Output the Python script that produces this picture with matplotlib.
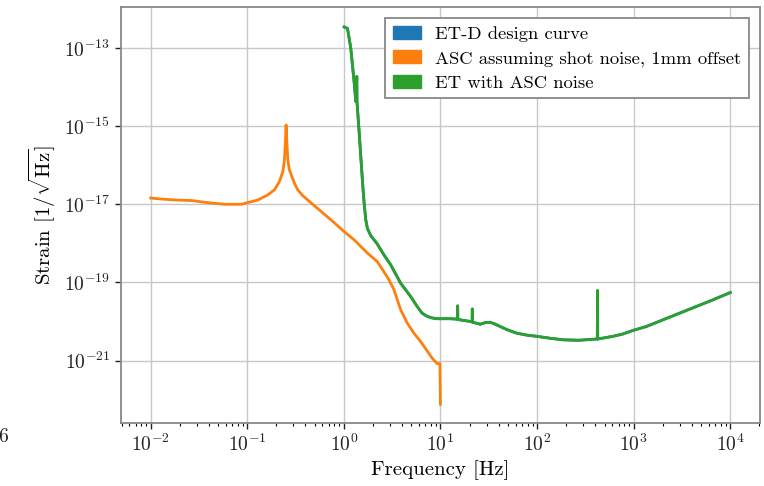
import numpy as np
import matplotlib
matplotlib.use("Agg")
import matplotlib.pyplot as plt
from matplotlib.patches import Patch

plt.rcParams['font.family'] = 'serif'
plt.rcParams['font.serif'] = ['cmr10', 'DejaVu Serif']
plt.rcParams['mathtext.fontset'] = 'cm'
plt.rcParams['axes.formatter.use_mathtext'] = True
plt.rcParams['axes.unicode_minus'] = False

# ---- data (log10 frequency [Hz], log10 strain) ----
asc_logf = [-2.0, -1.92, -1.749, -1.577, -1.405, -1.234, -1.062, -0.89,
            -0.787, -0.718, -0.667, -0.63, -0.615, -0.605, -0.598,
            -0.590, -0.58, -0.564, -0.512, -0.477, -0.43, -0.374, -0.271, -0.237,
            -0.1, 0.003, 0.106, 0.244, 0.347, 0.467, 0.519, 0.588, 0.656,
            0.725, 0.794, 0.914, 0.966, 0.995, 1.0]
asc_logs = [-16.84, -16.86, -16.89, -16.905, -16.96, -17.0, -17.0, -16.89,
            -16.76, -16.63, -16.42, -16.15, -15.86, -15.40, -14.97,
            -15.40, -15.86, -16.12, -16.46, -16.63, -16.77, -16.89, -17.11, -17.18,
            -17.47, -17.70, -17.91, -18.25, -18.47, -18.93, -19.19, -19.70, -20.04,
            -20.30, -20.51, -20.94, -21.08, -21.08, -22.12]

et_logf = [0.003, 0.038, 0.072, 0.106, 0.124, 0.134, 0.136, 0.158, 0.193,
           0.209, 0.227, 0.244, 0.278, 0.347, 0.416, 0.485, 0.588, 0.691,
           0.760, 0.811, 0.863, 0.914, 0.966, 1.103, 1.172, 1.176, 1.178,
           1.180, 1.309, 1.328, 1.330, 1.332, 1.412, 1.464, 1.515, 1.567,
           1.619, 1.688, 1.79, 1.894, 1.997, 2.134, 2.271, 2.409, 2.443,
           2.615, 2.624, 2.626, 2.628, 2.787, 2.89, 2.993, 3.131, 3.302,
           3.474, 3.646, 3.818, 4.0]
et_logs = [-12.46, -12.50, -13.01, -13.86, -14.37, -13.73, -14.37, -15.14, -16.42,
           -16.95, -17.40, -17.62, -17.80, -18.02, -18.30, -18.55, -19.02, -19.36,
           -19.62, -19.79, -19.87, -19.91, -19.93, -19.93, -19.94, -19.94, -19.60,
           -19.95, -20.0, -20.01, -19.68, -20.02, -20.07, -20.03, -20.02, -20.07,
           -20.13, -20.21, -20.30, -20.35, -20.38, -20.43, -20.47, -20.48, -20.48,
           -20.45, -20.45, -19.21, -20.45, -20.38, -20.32, -20.23, -20.13, -19.96,
           -19.79, -19.62, -19.45, -19.26]

# ET-D design curve lies underneath the ET+ASC curve
etd_logf = et_logf
etd_logs = et_logs

labels = ['ET-D design curve', 'ASC assuming shot noise, 1mm offset', 'ET with ASC noise']
colors = ['#1f77b4', '#ff7f0e', '#2ca02c']

fig = plt.figure(figsize=(7.64, 4.86), dpi=100)
ax = fig.add_axes([0.158, 0.1296, 0.837, 0.856])

ax.loglog(10 ** np.array(etd_logf), 10 ** np.array(etd_logs), color=colors[0], lw=2)
ax.loglog(10 ** np.array(asc_logf), 10 ** np.array(asc_logs), color=colors[1], lw=2)
ax.loglog(10 ** np.array(et_logf), 10 ** np.array(et_logs), color=colors[2], lw=2)

ax.set_xlim(10 ** -2.31, 10 ** 4.31)
ax.set_ylim(10 ** -22.6, 10 ** -11.95)

ax.yaxis.set_major_locator(matplotlib.ticker.FixedLocator([1e-13, 1e-15, 1e-17, 1e-19, 1e-21]))
ax.yaxis.set_minor_locator(matplotlib.ticker.NullLocator())
ax.xaxis.set_major_locator(matplotlib.ticker.LogLocator(base=10, numticks=20))
ax.xaxis.set_minor_locator(matplotlib.ticker.LogLocator(base=10, subs=np.arange(2, 10), numticks=20))
ax.xaxis.set_minor_formatter(matplotlib.ticker.NullFormatter())

ax.grid(True, which='major', color='#c8c8c8', lw=1)
ax.set_axisbelow(True)
for s in ax.spines.values():
    s.set_color('#888888')
    s.set_linewidth(1.3)
ax.tick_params(which='major', length=4, width=1, direction='out', labelsize=14, colors='#222222')
ax.tick_params(which='minor', length=2.5, width=0.8, direction='out')

ax.set_xlabel('Frequency [Hz]', fontsize=15)
ax.set_ylabel(r'Strain $[1/\sqrt{\mathrm{Hz}}]$', fontsize=15)

handles = [Patch(facecolor=c, edgecolor=c) for c in colors]
leg = ax.legend(handles, labels, loc='upper right', fontsize=13.4, fancybox=False,
                framealpha=1, edgecolor='#888888', handlelength=1.5, handleheight=0.7,
                borderaxespad=0.6, labelspacing=0.45)
leg.get_frame().set_linewidth(1.3)

fig.text(-0.003, 0.09, '6', fontsize=14, color='#222222')

fig.savefig('out.png', dpi=100)
